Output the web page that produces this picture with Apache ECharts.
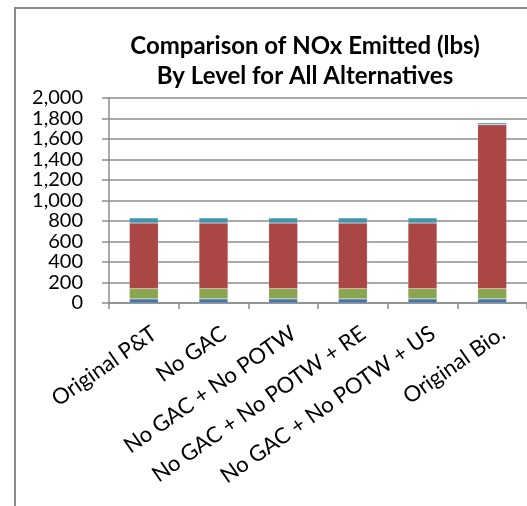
<!DOCTYPE html>
<html>
<head>
<meta charset="utf-8">
<script src="https://cdn.jsdelivr.net/npm/echarts@6/dist/echarts.min.js"></script>
<style>
html,body{margin:0;padding:0;background:#fff;}
#chart{width:527px;height:506px;}
</style>
</head>
<body>
<div id="chart"></div>
<script>
const categories = ['Original P&T', 'No GAC', 'No GAC + No POTW', 'No GAC + No POTW + RE', 'No GAC + No POTW + US', 'Original Bio.'];
const level1 = [40, 40, 40, 40, 40, 40];
const level2 = [100, 100, 100, 100, 100, 100];
const level3 = [640, 640, 640, 640, 640, 1600];
const level4 = [50, 50, 50, 50, 50, 18];
const yTicks = [0, 2000, 200];

const chart = echarts.init(document.getElementById('chart'));
const gray = '#8c8c8c';
const font = 'Lato';
function bar(name, data, color) {
  return {
    name: name, type: 'bar', stack: 'total', data: data, barWidth: 29,
    itemStyle: { color: color, borderColor: 'rgba(255,255,255,0.35)', borderWidth: 0.5 },
    emphasis: { disabled: true }
  };
}
chart.setOption({
  animation: false,
  backgroundColor: '#fff',
  title: {
    text: 'Comparison of NOx Emitted (lbs)\nBy Level for All Alternatives',
    left: 300, top: 26, textAlign: 'center',
    textStyle: { fontFamily: font, fontWeight: 'bold', fontSize: 24, lineHeight: 30, color: '#000' }
  },
  graphic: [{
    type: 'rect', silent: true,
    shape: { x: 15, y: 8, width: 600, height: 600 },
    style: { fill: 'none', stroke: gray, lineWidth: 2 }
  }],
  grid: { left: 109, right: -1, top: 98, bottom: 203, containLabel: false },
  xAxis: {
    type: 'category', data: categories,
    axisLine: { lineStyle: { color: gray, width: 1.5 } },
    axisTick: { show: true, length: 6, lineStyle: { color: gray, width: 1.5 } },
    axisLabel: { rotate: 35, margin: 22, verticalAlign: 'top', fontFamily: font, fontSize: 22, color: '#000', interval: 0, padding: [0, -5, 0, 0] }
  },
  yAxis: {
    type: 'value', min: yTicks[0], max: yTicks[1], interval: yTicks[2],
    axisLine: { show: true, lineStyle: { color: gray, width: 1.5 } },
    axisTick: { show: true, length: 7, lineStyle: { color: gray, width: 1.5 } },
    splitLine: { lineStyle: { color: gray, width: 1.5 } },
    axisLabel: {
      margin: 26, fontFamily: font, fontSize: 20, lineHeight: 16, color: '#000',
      showMinLabel: true, showMaxLabel: true, hideOverlap: false,
      formatter: v => v.toLocaleString('en-US')
    }
  },
  series: [
    bar('Level 1', level1, '#4572A7'),
    bar('Level 2', level2, '#89A54E'),
    bar('Level 3', level3, '#AA4643'),
    bar('Level 4', level4, '#3D96AE')
  ]
});
</script>
</body>
</html>
